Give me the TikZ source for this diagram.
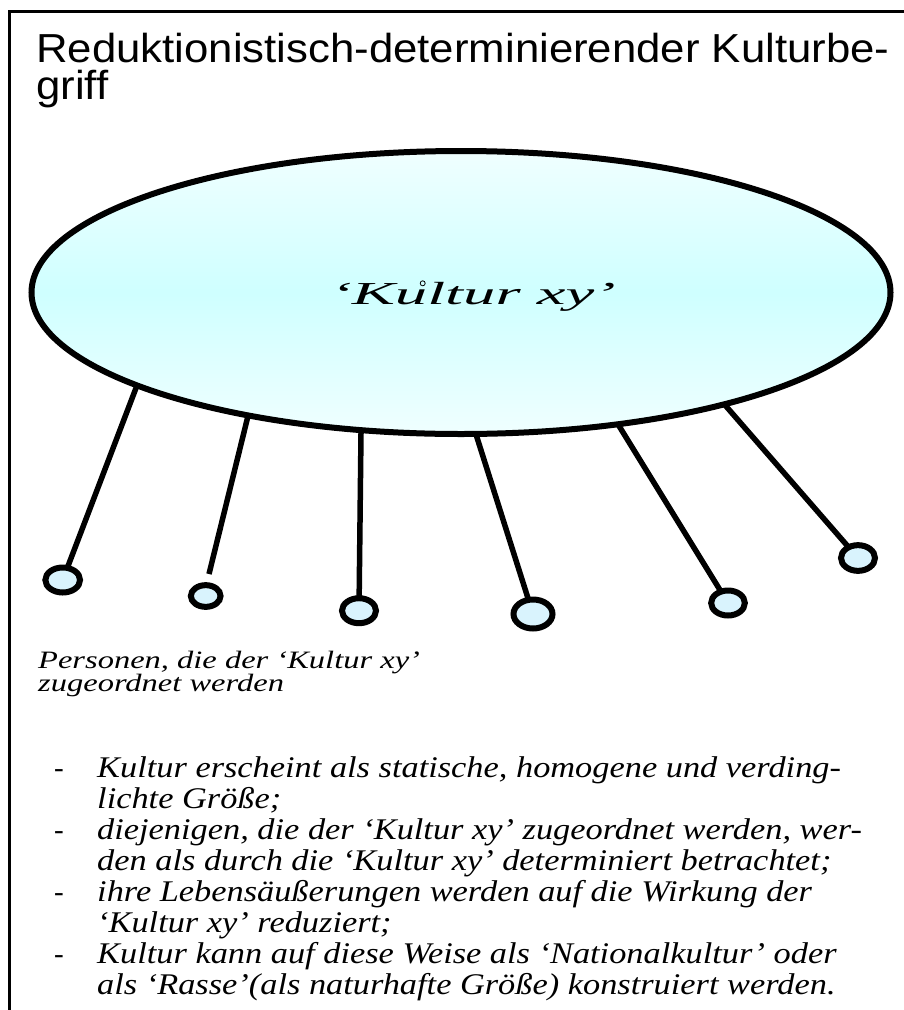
\documentclass[tikz,border=0pt]{standalone}
\usepackage{fontspec}
\setmainfont{Liberation Serif}
\setsansfont{Liberation Sans}
\usetikzlibrary{shapes.geometric}
\begin{document}
\begin{tikzpicture}[x=1pt,y=-1pt,
  spoke/.style={line width=5.5pt},
  person/.style={ellipse, draw, line width=6pt, fill=cyan!15, inner sep=0pt, outer sep=0pt},
  titletext/.style={anchor=base west, inner sep=0pt, font=\sffamily\fontsize{40.5}{41}\selectfont},
  bullettext/.style={anchor=base west, inner sep=0pt, font=\fontsize{30}{31}\selectfont\itshape},
  dashtext/.style={anchor=base west, inner sep=0pt, font=\fontsize{29}{31}\selectfont},
  captext/.style={anchor=base west, inner sep=0pt, font=\fontsize{25}{26}\selectfont\itshape},
]
\useasboundingbox (0,0) rectangle (904,1010);
\draw[line width=3pt] (9.5,1012) -- (9.5,11) -- (906,11);

\node[titletext] (t1) at (36,62) {\scalebox{1.08}[1]{Reduktionistisch-determinierender Kulturbe-}};
\node[titletext] (t2) at (36,99) {\scalebox{1.08}[1]{griff}};

\node[ellipse, draw, line width=6pt, minimum width=859pt, minimum height=283pt,
      inner sep=0pt, outer sep=0pt,
      top color=cyan!6, bottom color=cyan!6, middle color=cyan!19] (K) at (461,292.5) {};
\node[anchor=base, inner sep=0pt, font=\fontsize{32}{32}\selectfont\itshape] (kt) at (473,304)
  {\scalebox{2.02}[1]{‘Kultur xy’}};
\draw[line width=0.8pt] (422.7,283.3) circle (2.5pt);

\node[person, minimum width=34.7pt, minimum height=25pt] (c1) at (62.7,580) {};
\node[person, minimum width=29.7pt, minimum height=21.7pt] (c2) at (205.7,596) {};
\node[person, minimum width=34pt, minimum height=25pt] (c3) at (359,610.7) {};
\node[person, minimum width=39pt, minimum height=29pt] (c4) at (533,614) {};
\node[person, minimum width=33.7pt, minimum height=25pt] (c5) at (728,603) {};
\node[person, minimum width=34pt, minimum height=25.7pt] (c6) at (858,558) {};
\coordinate (e2) at (209,574);

\draw[spoke] (K.196.9) -- (c1);
\draw[spoke] (K.210) -- (e2);
\draw[spoke] (K.234.7) -- (c3);
\draw[spoke] (K.276) -- (c4);
\draw[spoke] (K.320.4) -- (c5);
\draw[spoke] (K.337.8) -- (c6);

\node[captext] (p1) at (38,668) {\scalebox{1.3}[1]{Personen, die der ‘Kultur xy’}};
\node[captext] (p2) at (38,691) {\scalebox{1.3}[1]{zugeordnet werden}};

\node[dashtext] (d1) at (54,777) {-};
\node[dashtext] (d2) at (54,839.2) {-};
\node[dashtext] (d3) at (54,901.4) {-};
\node[dashtext] (d4) at (54,963.6) {-};

\node[bullettext] (b1) at (97,777) {\scalebox{1.145}[1]{Kultur erscheint als statische, homogene und verding-}};
\node[bullettext] (b2) at (97,808.1) {\scalebox{1.145}[1]{lichte Größe;}};
\node[bullettext] (b3) at (97,839.2) {\scalebox{1.145}[1]{diejenigen, die der ‘Kultur xy’ zugeordnet werden, wer-}};
\node[bullettext] (b4) at (97,870.3) {\scalebox{1.145}[1]{den als durch die ‘Kultur xy’ determiniert betrachtet;}};
\node[bullettext] (b5) at (97,901.4) {\scalebox{1.145}[1]{ihre Lebensäußerungen werden auf die Wirkung der}};
\node[bullettext] (b6) at (97,932.5) {\scalebox{1.145}[1]{‘Kultur xy’ reduziert;}};
\node[bullettext] (b7) at (97,963.6) {\scalebox{1.145}[1]{Kultur kann auf diese Weise als ‘Nationalkultur’ oder}};
\node[bullettext] (b8) at (97,994.7) {\scalebox{1.145}[1]{als ‘Rasse’(als naturhafte Größe) konstruiert werden.}};
\end{tikzpicture}
\end{document}
